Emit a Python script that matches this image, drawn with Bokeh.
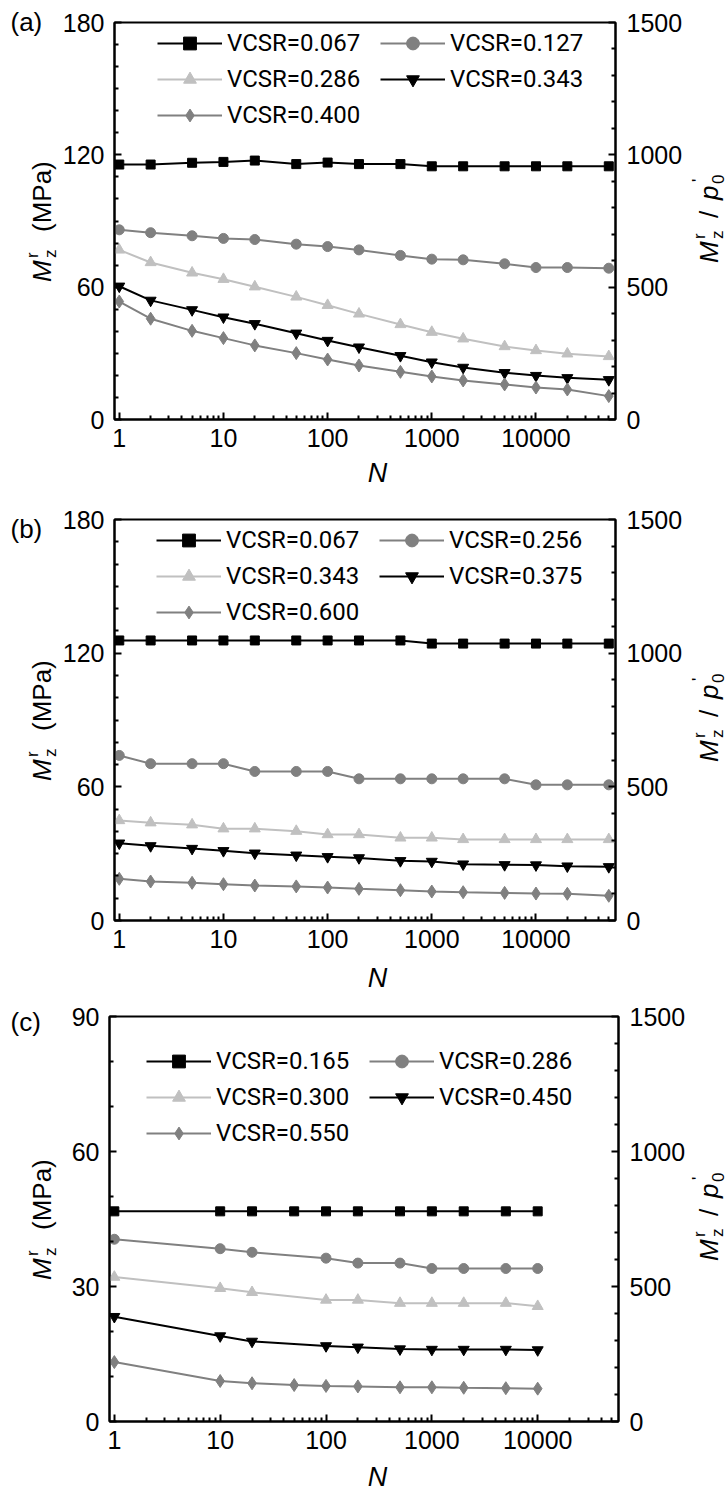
import math

from bokeh.embed import file_html
from bokeh.models import (FixedTicker, GridBox, Label, Legend, LegendItem, LinearAxis,
                          NumeralTickFormatter, Range1d)
from bokeh.plotting import figure
from bokeh.resources import INLINE

# ---------------------------------------------------------------- data
# number of cycles N
n_ab = [1, 2, 5, 10, 20, 50, 100, 200, 500, 1000, 2000, 5000, 10000, 20000, 50000]
n_c_full = [1, 10, 20, 50, 100, 200, 500, 1000, 2000, 5000, 10000]
n_c_part = [1, 10, 20, 100, 200, 500, 1000, 2000, 5000, 10000]

# panel (a): resilient modulus M_z^r (MPa)
a_labels = ["VCSR=0.067", "VCSR=0.127", "VCSR=0.286", "VCSR=0.343", "VCSR=0.400"]
a_v0067 = [115.6, 115.6, 116.4, 116.8, 117.4, 115.8, 116.5, 115.8, 115.8, 114.8, 114.8, 114.8, 114.8, 114.8, 114.8]
a_v0127 = [86.0, 84.7, 83.3, 82.1, 81.6, 79.5, 78.4, 76.9, 74.4, 72.7, 72.4, 70.6, 68.9, 68.9, 68.6]
a_v0286 = [76.9, 71.2, 66.5, 63.6, 60.2, 55.6, 51.8, 47.9, 43.1, 39.6, 36.6, 33.1, 31.3, 29.8, 28.6]
a_v0343 = [60.4, 54.0, 49.7, 46.4, 43.4, 39.1, 35.8, 32.8, 28.9, 26.0, 23.6, 21.2, 19.9, 18.9, 18.0]
a_v0400 = [53.5, 45.7, 40.2, 36.9, 33.6, 30.1, 27.2, 24.5, 21.6, 19.5, 17.7, 15.9, 14.5, 13.6, 10.6]

# panel (b)
b_labels = ["VCSR=0.067", "VCSR=0.256", "VCSR=0.343", "VCSR=0.375", "VCSR=0.600"]
b_v0067 = [125.7, 125.7, 125.7, 125.7, 125.7, 125.7, 125.7, 125.7, 125.7, 124.3, 124.3, 124.3, 124.3, 124.3, 124.3]
b_v0256 = [74.1, 70.4, 70.4, 70.4, 66.9, 66.9, 66.9, 63.6, 63.6, 63.6, 63.6, 63.6, 60.9, 60.9, 60.9]
b_v0343 = [44.9, 43.9, 43.0, 41.2, 41.2, 40.1, 38.6, 38.6, 37.1, 37.1, 36.4, 36.4, 36.4, 36.4, 36.4]
b_v0375 = [34.7, 33.5, 32.3, 31.3, 30.2, 29.3, 28.6, 28.1, 26.8, 26.5, 25.3, 25.0, 24.9, 24.4, 24.1]
b_v0600 = [18.7, 17.5, 16.9, 16.3, 15.7, 15.3, 14.8, 14.2, 13.6, 13.0, 12.7, 12.4, 12.1, 12.0, 11.1]

# panel (c)
c_labels = ["VCSR=0.165", "VCSR=0.286", "VCSR=0.300", "VCSR=0.450", "VCSR=0.550"]
c_v0165 = [46.7, 46.7, 46.7, 46.7, 46.7, 46.7, 46.7, 46.7, 46.7, 46.7, 46.7]
c_v0286 = [40.5, 38.4, 37.6, 36.3, 35.2, 35.2, 34.0, 34.0, 34.0, 34.0]
c_v0300 = [32.1, 29.6, 28.7, 27.0, 27.0, 26.3, 26.3, 26.3, 26.3, 25.6]
c_v0450 = [23.3, 19.0, 17.8, 16.8, 16.5, 16.1, 16.0, 16.0, 16.0, 15.9]
c_v0550 = [13.2, 9.0, 8.5, 8.1, 7.9, 7.8, 7.6, 7.6, 7.5, 7.4, 7.3]

x_ticks = [1, 10, 100, 1000, 10000]
right_ticks = [0, 500, 1000, 1500]

# ---------------------------------------------------------------- styles
FONT = "Liberation Sans"
GRAY = "#808080"
LIGHT = "#c0c0c0"
PAGE_W, PANEL_H = 728, 497
PAGE_H = 3 * PANEL_H
# marker, colour, size
STYLES = [
    ("square", "black", 9),
    ("circle", GRAY, 10),
    ("triangle", LIGHT, 11),
    ("inverted_triangle", "black", 11),
    ("diamond", GRAY, 13),
]


def log_minor(lo, hi):
    out = []
    for k in range(lo, hi + 1):
        for m in range(2, 10):
            out.append(m * 10 ** k)
    return out


def style_axis(ax, standoff):
    ax.axis_line_width = 2
    ax.axis_line_color = "black"
    ax.major_tick_in = 7
    ax.major_tick_out = 0
    ax.minor_tick_in = 4
    ax.minor_tick_out = 0
    ax.major_tick_line_width = 2
    ax.minor_tick_line_width = 2
    ax.major_tick_line_color = "black"
    ax.minor_tick_line_color = "black"
    ax.major_label_text_font = FONT
    ax.major_label_text_font_size = "25px"
    ax.major_label_text_color = "black"
    ax.major_label_standoff = standoff


def panel(series, names, y_max, y_major, left, frame_w, right, frame_h, bottom, legend_xy):
    p = figure(x_axis_type="log", x_range=Range1d(0.9, 58000), y_range=Range1d(0, y_max),
               frame_width=frame_w, frame_height=frame_h,
               min_border_left=left, min_border_right=right,
               min_border_top=22, min_border_bottom=bottom,
               output_backend="svg", toolbar_location=None)
    p.frame_align = False
    p.grid.visible = False
    p.outline_line_color = "black"
    p.outline_line_width = 2
    p.outline_line_alpha = 1.0
    p.background_fill_color = "white"
    p.border_fill_color = "white"

    xa = p.xaxis[0]
    xa.ticker = FixedTicker(ticks=x_ticks, minor_ticks=log_minor(0, 4))
    xa.formatter = NumeralTickFormatter(format="0")
    style_axis(xa, 9)

    ya = p.yaxis[0]
    ya.ticker = FixedTicker(ticks=y_major,
                            minor_ticks=[v for v in range(0, y_max + 1, 10) if v not in y_major])
    style_axis(ya, 10)

    p.extra_y_ranges = {"norm": Range1d(0, 1500)}
    ra = LinearAxis(y_range_name="norm")
    ra.ticker = FixedTicker(ticks=right_ticks,
                            minor_ticks=[v for v in range(0, 1501, 100) if v not in right_ticks])
    style_axis(ra, 11)
    p.add_layout(ra, "right")

    items = []
    for (xs, ys), name, (marker, color, size) in zip(series, names, STYLES):
        ln = p.line(xs, ys, line_color=color, line_width=2)
        sc = p.scatter(xs, ys, marker=marker, size=size, fill_color=color, line_color=color)
        items.append(LegendItem(label=name, renderers=[ln, sc]))

    leg_h = 3 * 32 + 2 * 4
    lx, ltop = legend_xy
    legend = Legend(items=items, orientation="horizontal", ncols=2,
                    location=(lx, frame_h - ltop - leg_h),
                    glyph_width=65, glyph_height=32, label_height=32, label_width=149,
                    label_standoff=5, spacing=4, padding=0, margin=0,
                    border_line_alpha=0, background_fill_alpha=0,
                    label_text_font="Roboto", label_text_font_size="24px",
                    label_text_color="black")
    p.add_layout(legend)
    return p


pa = panel([(n_ab, a_v0067), (n_ab, a_v0127), (n_ab, a_v0286), (n_ab, a_v0343), (n_ab, a_v0400)],
           a_labels, 180, [0, 60, 120, 180], 114, 501, 113, 397, 78, (43, 5))
pb = panel([(n_ab, b_v0067), (n_ab, b_v0256), (n_ab, b_v0343), (n_ab, b_v0375), (n_ab, b_v0600)],
           b_labels, 180, [0, 60, 120, 180], 114, 501, 113, 401, 74, (42, 5))
pc = panel([(n_c_full, c_v0165), (n_c_part, c_v0286), (n_c_part, c_v0300),
            (n_c_part, c_v0450), (n_c_full, c_v0550)],
           c_labels, 90, [0, 30, 60, 90], 109, 509, 110, 405, 70, (37, 29))

# ---------------------------------------------------------------- titles layer
# A transparent page-sized canvas laid over the three panels carries the
# panel tags and the axis titles (with their sub/superscripts).
titles = figure(width=PAGE_W, height=PAGE_H, x_range=Range1d(0, PAGE_W),
                y_range=Range1d(PAGE_H, 0), min_border=0,
                x_axis_location=None, y_axis_location=None,
                output_backend="svg", toolbar_location=None)
titles.frame_align = False
titles.grid.visible = False
titles.outline_line_alpha = 0
titles.background_fill_alpha = 0
titles.border_fill_alpha = 0


def text(x, y, s, size, italic=False, angle=0.0, align="left"):
    titles.add_layout(Label(x=x, y=y, text=s, angle=angle, text_align=align,
                            text_baseline="middle", text_font=FONT,
                            text_font_size=f"{size}px",
                            text_font_style="italic" if italic else "normal",
                            text_color="black"))


def vertical(pieces, mid_x, y_start):
    """Bottom-to-top title made of (text, along, perp, size, italic) pieces;
    perp is measured from the middle line of the main text."""
    for s, along, perp, size, italic in pieces:
        text(mid_x + perp, y_start - along, s, size, italic, angle=math.pi / 2)


LEFT_TITLE = [
    ("M", 0, 0, 26, True),
    ("z", 24, 9, 17, False),
    ("r", 24, -9, 17, False),
    ("(MPa)", 50, 0, 26, False),
]
RIGHT_TITLE = [
    ("M", 0, 0, 26, True),
    ("z", 24, 9, 17, False),
    ("r", 24, -9, 17, False),
    ("/", 45, 0, 26, False),
    ("p", 63, 0, 26, True),
    ("0", 79, 9, 17, False),
    ("'", 81, -10, 17, False),
]

# (tag, tag centre y, frame top, frame bottom, centre of N)
PANELS = [("(a)", 21.5, 22, 419, 472), ("(b)", 528, 519, 920, 977), ("(c)", 1021.5, 1016, 1421, 1476)]
for tag, tag_y, top, bot, n_mid in PANELS:
    mid = (top + bot) / 2
    text(10, tag_y, tag, 26)
    text(377, n_mid, "N", 27, italic=True, align="center")
    vertical(LEFT_TITLE, 41, mid + 61)
    vertical(RIGHT_TITLE, 708, mid + 42)

layout = GridBox(children=[(pa, 0, 0), (pb, 1, 0), (pc, 2, 0), (titles, 0, 0, 3, 1)], spacing=0)
open("out.html", "w").write(file_html(layout, INLINE))
